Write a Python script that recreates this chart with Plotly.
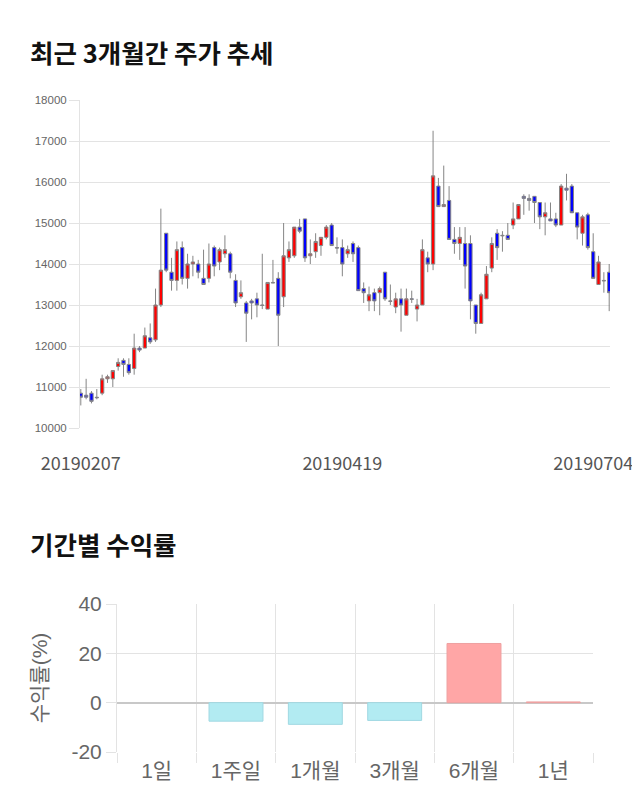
import plotly.graph_objects as go

# ---- Candlestick data ----
opens  = [10850,10800,10850,10750,10850,11200,11200,11500,11650,11550,
          11450,11950,11950,12200,12150,13000,14750,13800,13600,14400,
          13650,14000,14000,13650,13650,14400,14050,14250,14250,13600,
          13200,13050,13100,13150,13000,12900,13550,13650,13200,14150,
          14200,14900,15100,14200,14300,14450,14650,14950,14400,14400,
          14250,14500,14400,13400,13100,13300,13300,13800,13100,12950,
          13150,12750,13150,12900,13000,14150,14000,15900,15400,15550,
          14600,14500,14500,14500,13000,12550,13150,13900,14750,14700,
          14700,14950,15100,15650,15600,15650,15500,15150,15100,15100,
          14950,15850,15900,15250,14750,15200,14300,13500,13600,13800]
highs  = [10950,11200,10900,10950,11300,11300,11400,11700,11700,11700,
          12300,12000,12450,12550,13400,15350,14750,14150,14550,14550,
          14250,14200,14100,14350,14500,14450,14400,14700,14300,13750,
          13600,13100,13150,13300,14250,13550,14100,13800,15000,14550,
          14900,15100,15100,14600,14750,14650,14950,15000,14650,14600,
          14450,14550,14450,13550,13450,13400,13450,13800,13500,13300,
          13400,13400,13350,13150,14600,14300,17250,16100,16400,15900,
          14900,14900,14900,14700,13000,13300,13950,14650,14850,14800,
          15000,15500,15450,15700,15700,15650,15500,15500,15500,15250,
          15950,16200,15950,15250,15200,15250,14750,14200,13800,14000]
lows   = [10550,10700,10600,10700,10800,11100,11000,11400,11250,11300,
          11300,11850,11950,12050,12100,12950,13800,13350,13350,13500,
          13400,13700,13650,13500,13550,13700,13850,14150,13650,12950,
          13150,12100,12650,12700,12900,12900,13550,12000,12950,14050,
          14150,14750,14050,14000,14150,14200,14600,14450,14250,13700,
          14150,14050,13350,13050,12850,12850,12750,13100,13000,12800,
          12350,12750,13050,12600,13000,13800,13850,15400,15400,14600,
          14250,14100,13400,12650,12300,12550,13150,13800,14100,14300,
          14600,14850,15100,15200,15300,15000,14850,14700,15050,14900,
          14950,15550,15250,14600,14450,14350,13650,13500,13300,12850]
closes = [10750,10750,10650,10740,11200,11250,11400,11600,11550,11350,
          11950,11900,12250,12100,13000,13850,13850,13600,14350,13650,
          14000,14050,13800,13500,14000,13950,14350,14350,13800,13050,
          13300,12800,13050,13000,12990,13550,13540,12750,14200,14350,
          14900,14800,14150,14250,14550,14650,14900,14450,14390,14000,
          14350,14250,13350,13300,13250,13100,13400,13150,13090,13150,
          13000,13150,13140,13000,14350,14000,16150,15400,15450,14600,
          14500,14650,13950,13100,12550,13250,13750,14500,14400,14690,
          14600,15100,15450,15600,15550,15500,15150,15250,15050,14950,
          15900,15800,15250,14900,15150,14400,13650,14050,13590,13300]
days = list(range(len(opens)))
date_tick_pos = [0, 49, 96]
date_tick_text = ["20190207", "20190419", "20190704"]
price_ticks = [10000, 11000, 12000, 13000, 14000, 15000, 16000, 17000, 18000]

# ---- Period return data ----
periods = ["1일", "1주일", "1개월", "3개월", "6개월", "1년"]
returns = [0.0, -7.5, -8.8, -7.2, 24.0, 0.3]
return_ticks = [-20, 0, 20, 40]
return_tick_text = ["-20", "0", "20", "40"]

# page has an 8px body margin; lay out in screen pixels
OFF = 8
W, H = 640 - OFF, 810 - OFF
def px(x): return (x - OFF) / W
def py(y): return 1 - (y - OFF) / H

fig = go.Figure()

fig.add_trace(go.Candlestick(
    x=days, open=opens, high=highs, low=lows, close=closes,
    increasing=dict(fillcolor="#ff0000", line=dict(color="#858585", width=1)),
    decreasing=dict(fillcolor="#0000ff", line=dict(color="#858585", width=1)),
    whiskerwidth=0, xaxis="x", yaxis="y", showlegend=False, hoverinfo="skip"))

bar_fill = ["#ffa6a6" if v >= 0 else "#b2ebf2" for v in returns]
bar_line = ["#eea0a0" if v >= 0 else "#a0d8e2" for v in returns]
bar_lw = [0 if v == 0 else 1 for v in returns]
fig.add_trace(go.Bar(
    x=periods, y=returns, width=0.68,
    marker=dict(color=bar_fill, line=dict(color=bar_line, width=bar_lw)),
    xaxis="x2", yaxis="y2", showlegend=False, hoverinfo="skip"))

grid = "#e3e3e3"
bar_font = "Liberation Sans, Noto Sans CJK KR"
fig.update_layout(
    width=W, height=H, margin=dict(l=0, r=0, t=0, b=0, autoexpand=False),
    paper_bgcolor="white", plot_bgcolor="white",
    boxgap=0.12,
    xaxis=dict(domain=[px(80), px(610)], range=[-0.15, 99.15], automargin=False,
               rangeslider=dict(visible=False), showgrid=False, zeroline=False,
               tickmode="array", tickvals=date_tick_pos, ticktext=date_tick_text,
               ticks="outside", ticklen=19, tickcolor="rgba(0,0,0,0)",
               tickfont=dict(family="Noto Sans CJK KR", size=18, color="#555555"),
               showline=False, fixedrange=True),
    yaxis=dict(domain=[py(428), py(100)], range=[10000, 18000], automargin=False,
               tickmode="array", tickvals=price_ticks, tickformat="d",
               showgrid=True, gridcolor=grid, gridwidth=1, zeroline=False,
               ticks="outside", ticklen=10, tickcolor=grid,
               showline=True, linecolor=grid, linewidth=1,
               tickfont=dict(family="Liberation Sans, Arial", size=11.5, color="#666666")),
    xaxis2=dict(domain=[px(117), px(593)], anchor="y2", type="category", automargin=False,
                showgrid=True, gridcolor=grid, tickson="boundaries",
                ticks="outside", ticklen=10, tickcolor=grid, ticklabelstandoff=4,
                tickfont=dict(family=bar_font, size=21, color="#666666"),
                showline=False, zeroline=False),
    yaxis2=dict(domain=[py(752), py(604)], anchor="x2", range=[-20, 40], automargin=False,
                tickmode="array", tickvals=return_ticks, ticktext=return_tick_text,
                showgrid=True, gridcolor=grid, zeroline=True, zerolinecolor="#c8c8c8",
                showline=True, linecolor=grid, linewidth=1,
                ticks="outside", ticklen=10, tickcolor=grid,
                tickfont=dict(family=bar_font, size=21, color="#666666"),
                title=dict(text="수익률(%)", standoff=18,
                           font=dict(family=bar_font, size=21, color="#666666"))),
    annotations=[
        dict(text="<b>최근 3개월간 주가 추세</b>", x=px(28), y=py(51), xref="paper", yref="paper",
             xanchor="left", yanchor="middle", showarrow=False,
             font=dict(family="Noto Sans CJK KR", size=25.5, color="#111111")),
        dict(text="<b>기간별 수익률</b>", x=px(28), y=py(543), xref="paper", yref="paper",
             xanchor="left", yanchor="middle", showarrow=False,
             font=dict(family="Noto Sans CJK KR", size=25.5, color="#111111")),
    ],
)

fig.write_html("out.html")
